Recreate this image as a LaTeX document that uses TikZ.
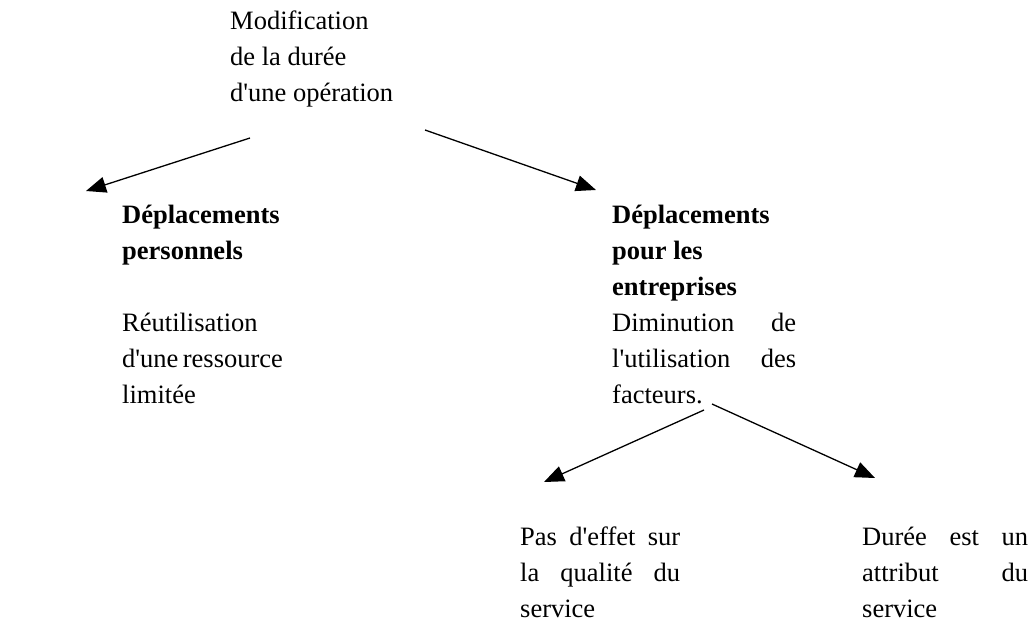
\documentclass[tikz,border=0pt]{standalone}
\usepackage{fontspec}
\setmainfont{Liberation Serif}[Ligatures=TeXOff]
\usetikzlibrary{arrows.meta}
\tikzset{
  txt/.style={font=\fontsize{26.5}{36}\selectfont, inner sep=0pt, anchor=north west, align=left},
  conn/.style={line width=1.3pt, -{Triangle[length=20pt,width=16pt]}}
}
\begin{document}
\begin{tikzpicture}[x=1pt,y=-1pt]
\useasboundingbox (0,0) rectangle (1031,636);
\node[txt] (top) at (230,3.8) {\strut Modification\\de la durée\\d'une opération};
\node[txt] (left) at (122,197.8) {\strut\textbf{Déplacements}\\\textbf{personnels}\\[36pt]Réutilisation\\\makebox[160pt][s]{d'une ressource}\\limitée};
\node[txt] (right) at (612,197.8) {\strut\textbf{Déplacements}\\\textbf{pour les}\\\textbf{entreprises}\\\makebox[184pt][s]{Diminution de}\\\makebox[184pt][s]{l'utilisation des}\\facteurs.};
\node[txt] (bl) at (520,519.8) {\strut\makebox[160pt][s]{Pas d'effet sur}\\\makebox[160pt][s]{la qualité du}\\service};
\node[txt] (br) at (862,519.8) {\strut\makebox[166pt][s]{Durée est un}\\\makebox[166pt][s]{attribut du}\\service};
\coordinate (a1s) at (250,138);
\coordinate (a1e) at (86,191);
\coordinate (a2s) at (425,130);
\coordinate (a2e) at (596,190);
\coordinate (a3s) at (704,410);
\coordinate (a3e) at (544,482);
\coordinate (a4s) at (712,404);
\coordinate (a4e) at (875,478);
\draw[conn] (a1s) -- (a1e);
\draw[conn] (a2s) -- (a2e);
\draw[conn] (a3s) -- (a3e);
\draw[conn] (a4s) -- (a4e);
\end{tikzpicture}
\end{document}
